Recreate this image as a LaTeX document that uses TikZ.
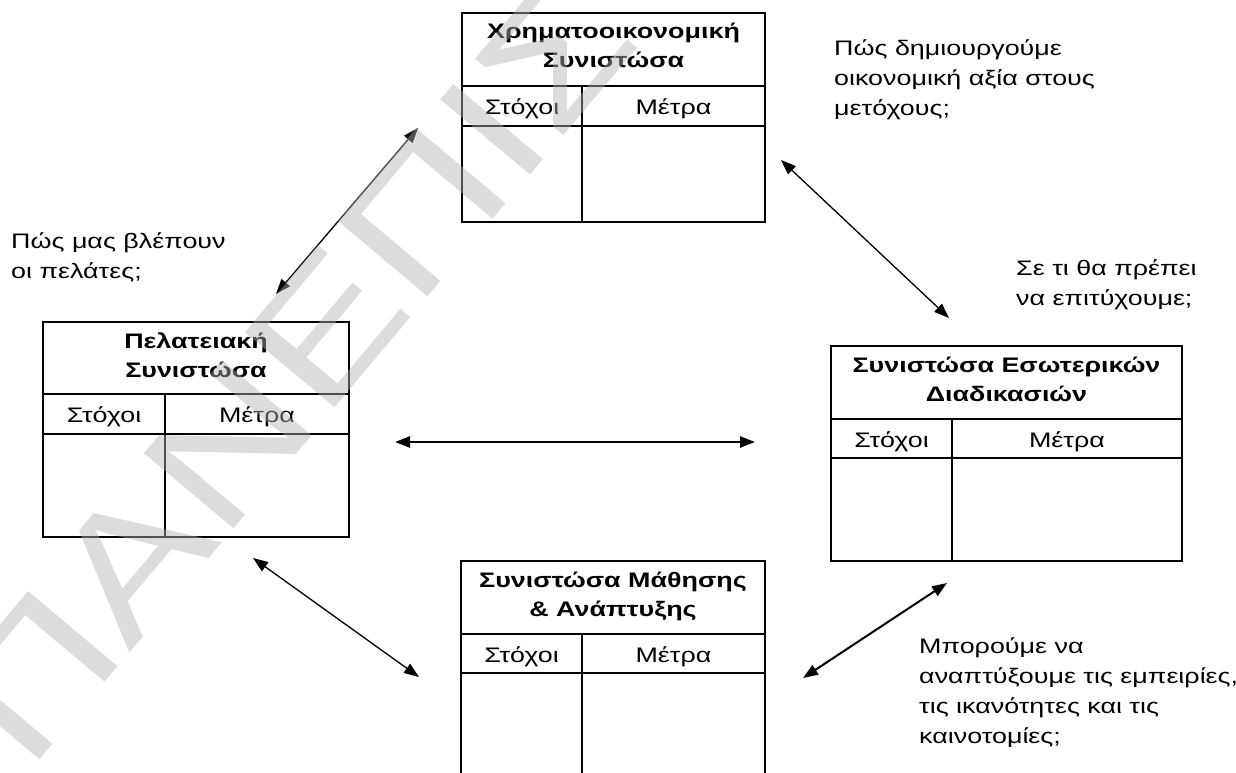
\documentclass[tikz,border=0pt]{standalone}
\usepackage{fontspec}
\setmainfont{Liberation Sans}[FakeStretch=1.28]
\usetikzlibrary{arrows.meta}

% One panel of the scorecard: outer frame, title row, header row, two columns.
% #1 name, #2 left, #3 right, #4 top, #5 title rule, #6 header rule, #7 column rule, #8 bottom, #9 title
\newcommand{\bscpanel}[9]{%
  \node[frame, minimum width={(#3-(#2))*1pt}, minimum height={(#8-(#4))*1pt}]
    (#1) at ({(#2+#3)/2},{(#4+#8)/2}) {};
  \draw[rule] (#2,#5) -- (#3,#5);
  \draw[rule] (#2,#6) -- (#3,#6);
  \draw[rule] (#7,#5) -- (#7,#8);
  % base of a two-line title is the baseline of its second line
  \node[ttl, anchor=base] (#1-title) at ({(#2+#3)/2},{#4+55}) {#9};
  \node[cell] (#1-goals) at ({(#2+#7)/2},{(#5+#6)/2+1}) {Στόχοι};
  \node[cell] (#1-measures) at ({(#7+#3)/2},{(#5+#6)/2+1}) {Μέτρα};
}

\begin{document}
\begin{tikzpicture}[x=1pt, y=-1pt,
  frame/.style={draw, line width=2pt, inner sep=0pt},
  rule/.style={line width=2pt},
  ttl/.style={font=\bfseries\fontsize{21}{29}\selectfont, align=center, inner sep=0pt},
  cell/.style={font=\fontsize{21}{29}\selectfont, inner sep=0pt, text height=15pt, text depth=0pt},
  note/.style={font=\fontsize{21}{30}\selectfont, align=left, inner sep=0pt, anchor=base west},
  link/.style={line width=1.3pt, {Triangle[length=15pt,width=11pt]}-{Triangle[length=15pt,width=11pt]}},
  boldlink/.style={link, line width=2.4pt},
  wm/.style={font=\fontsize{170}{170}\selectfont, text=black!30, text opacity=0.45, inner sep=0pt}]

\useasboundingbox (0,0) rectangle (1236,773);

% the four panels
\bscpanel{fin}{462}{765}{13}{86}{126}{582}{222}{Χρηματοοικονομική\\Συνιστώσα}
\bscpanel{cust}{43}{349}{322}{394}{434}{165}{537}{Πελατειακή\\Συνιστώσα}
\bscpanel{proc}{831}{1182}{346}{419}{458}{952}{561}{Συνιστώσα Εσωτερικών\\Διαδικασιών}
\bscpanel{learn}{461}{765}{561}{634}{673}{582}{800}{Συνιστώσα Μάθησης\\\& Ανάπτυξης}

% questions beside the panels (anchored at the baseline of the last line)
\node[note] (q-fin) at (834,116) {Πώς δημιουργούμε\\οικονομική αξία στους\\μετόχους;};
\node[note] (q-cust) at (11,278) {Πώς μας βλέπουν\\οι πελάτες;};
\node[note] (q-proc) at (1016,305) {Σε τι θα πρέπει\\να επιτύχουμε;};
\node[note] (q-learn) at (919,743) {Μπορούμε να\\αναπτύξουμε τις εμπειρίες,\\τις ικανότητες και τις\\καινοτομίες;};

% ends of the two-way arrows
\coordinate (c1a) at (276,294);  \coordinate (c1b) at (418,128);
\coordinate (c2a) at (781,160);  \coordinate (c2b) at (949,318);
\coordinate (c3a) at (395,442);  \coordinate (c3b) at (755,442);
\coordinate (c4a) at (253,558);  \coordinate (c4b) at (419,677);
\coordinate (c5a) at (803,678);  \coordinate (c5b) at (947,583);

\draw[link] (c1a) -- (c1b);
\draw[link] (c2a) -- (c2b);
\draw[boldlink] (c3a) -- (c3b);
\draw[link] (c4a) -- (c4b);
\draw[link, line width=2pt] (c5a) -- (c5b);

% faint diagonal stamp laid over the page
\begin{scope}
  \clip (0,0) rectangle (1236,773);
  \node[wm, rotate=50, anchor=base west] (stamp) at (28,774) {ΠΑΝΕΠΙΣΤΗΜΙΟ};
\end{scope}

\end{tikzpicture}
\end{document}
